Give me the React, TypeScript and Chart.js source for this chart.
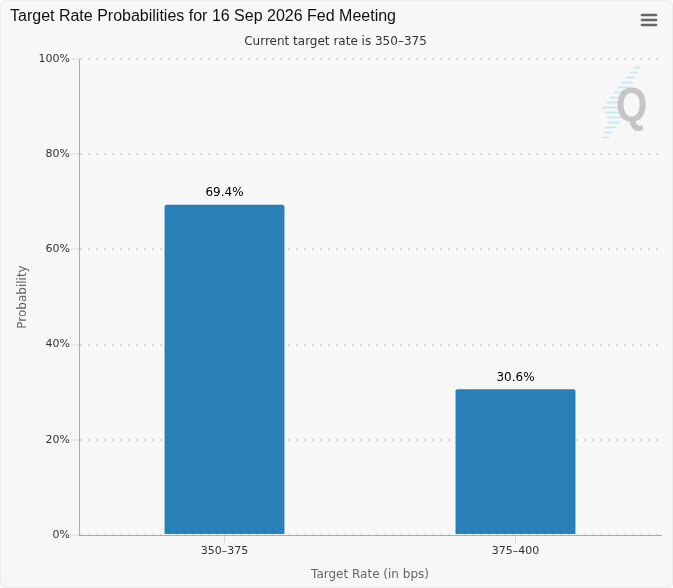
import React, { useEffect, useRef } from "react";
import { Chart, registerables } from "chart.js";

Chart.register(...registerables);

const TITLE = "Target Rate Probabilities for 16 Sep 2026 Fed Meeting";
const SUBTITLE = "Current target rate is 350–375";
const X_TITLE = "Target Rate (in bps)";
const Y_TITLE = "Probability";
const categories = ["350–375", "375–400"];
const probabilities = [69.4, 30.6];
const yTicks = [0, 20, 40, 60, 80, 100];

const W = 673;
const H = 588;
const TICK_FONT = "DejaVu Sans, Verdana, sans-serif";

const backgroundPlugin = {
  id: "bgPlugin",
  beforeDraw(chart: any) {
    const ctx = chart.ctx;
    ctx.save();
    ctx.fillStyle = "#ffffff";
    ctx.fillRect(0, 0, chart.width, chart.height);
    ctx.fillStyle = "#f7f7f7";
    ctx.strokeStyle = "#ececec";
    ctx.lineWidth = 1;
    ctx.beginPath();
    (ctx as any).roundRect(0.5, 0.5, chart.width - 1, chart.height - 1, 4);
    ctx.fill();
    ctx.stroke();
    ctx.restore();
  },
};

const decoPlugin = {
  id: "decoPlugin",
  beforeDatasetsDraw(chart: any) {
    const ctx = chart.ctx;
    ctx.save();
    // watermark stripes (decorative logo)
    ctx.strokeStyle = "rgba(160, 222, 244, 0.6)";
    ctx.lineWidth = 1.6;
    for (let y = 67; y <= 138; y += 5) {
      let left: number;
      let w: number;
      if (y <= 107) {
        left = 634 - (y - 67) * 0.8;
        w = 6 + (y - 67) * 0.3;
      } else {
        left = 603 + Math.max(0, 5 - Math.abs(y - 120) * 0.35);
        w = 18 - (y - 107) * 0.4;
      }
      ctx.beginPath();
      ctx.moveTo(left, y + 0.5);
      ctx.lineTo(left + w, y + 0.5);
      ctx.stroke();
    }
    // watermark Q
    ctx.fillStyle = "#c6c6c6";
    ctx.font = "bold 48px 'Liberation Sans', Arial, sans-serif";
    ctx.textBaseline = "alphabetic";
    ctx.textAlign = "left";
    ctx.translate(616, 121);
    ctx.scale(0.84, 1);
    ctx.fillText("Q", 0, 0);
    ctx.restore();
  },
  afterDraw(chart: any) {
    const ctx = chart.ctx;
    ctx.save();
    ctx.strokeStyle = "#666666";
    ctx.lineWidth = 2.6;
    ctx.lineCap = "round";
    [15, 20, 25].forEach((y) => {
      ctx.beginPath();
      ctx.moveTo(642, y);
      ctx.lineTo(656, y);
      ctx.stroke();
    });
    ctx.restore();
  },
};

const labelPlugin = {
  id: "labelPlugin",
  afterDatasetsDraw(chart: any) {
    const ctx = chart.ctx;
    const meta = chart.getDatasetMeta(0);
    ctx.save();
    ctx.fillStyle = "#000000";
    ctx.font = `12px ${TICK_FONT}`;
    ctx.textAlign = "center";
    ctx.textBaseline = "middle";
    meta.data.forEach((bar: any, i: number) => {
      const v = chart.data.datasets[0].data[i] as number;
      ctx.fillText(v.toFixed(1) + "%", bar.x, bar.y - 11.6);
    });
    ctx.restore();
  },
};

export default function App() {
  const ref = useRef<HTMLCanvasElement | null>(null);

  useEffect(() => {
    const canvas = ref.current;
    if (!canvas) return;
    const chart = new Chart(canvas, {
      type: "bar",
      data: {
        labels: categories,
        datasets: [
          {
            data: probabilities,
            backgroundColor: "#2980b9",
            borderRadius: 2,
            categoryPercentage: 1,
            barPercentage: 0.412,
          },
        ],
      },
      options: {
        responsive: false,
        animation: false,
        events: [],
        layout: { padding: { left: 10, right: 12, top: 0, bottom: 0 } },
        plugins: {
          legend: { display: false },
          tooltip: { enabled: false },
          title: {
            display: true,
            text: TITLE,
            align: "start",
            color: "#111111",
            font: { family: "'Liberation Sans', Arial, sans-serif", size: 16, weight: "normal", lineHeight: 1.2 },
            padding: { top: 7.4, bottom: 4 },
          },
          subtitle: {
            display: true,
            text: SUBTITLE,
            color: "#333333",
            font: { family: TICK_FONT, size: 12, weight: "normal", lineHeight: 1.2 },
            padding: { top: 3.7, bottom: 10.3 },
          },
        },
        scales: {
          x: {
            grid: {
              offset: false,
              drawOnChartArea: false,
              drawTicks: true,
              tickLength: 8,
              tickColor: "#d0d7e3",
            },
            border: { color: "#aaaaaa", width: 1 },
            ticks: {
              color: "#333333",
              font: { family: TICK_FONT, size: 11 },
              padding: 2,
              maxRotation: 0,
            },
            title: {
              display: true,
              text: X_TITLE,
              color: "#666666",
              font: { family: TICK_FONT, size: 12, lineHeight: 1.2 },
              padding: { top: 0, bottom: 6.3 },
            },
            afterFit: (s: any) => {
              s.height = 53;
            },
          },
          y: {
            min: 0,
            max: 100,
            afterBuildTicks: (s: any) => {
              s.ticks = yTicks.map((v) => ({ value: v }));
            },
            ticks: {
              color: "#333333",
              font: { family: TICK_FONT, size: 11 },
              padding: 1,
              callback: (v: any) => v + "%",
            },
            grid: {
              color: "#dadada",
              lineWidth: 2,
              tickColor: "#d0d7e3",
              tickWidth: 1,
              tickLength: 8,
              tickBorderDash: [],
            },
            border: { color: "#aaaaaa", width: 1, dash: [2, 6] },
            title: {
              display: true,
              text: Y_TITLE,
              color: "#666666",
              font: { family: TICK_FONT, size: 12, lineHeight: 1.2 },
              padding: { top: 5.3, bottom: 0 },
            },
            afterFit: (s: any) => {
              s.width = 69;
            },
          },
        },
      },
      plugins: [backgroundPlugin, decoPlugin, labelPlugin],
    } as any);
    return () => chart.destroy();
  }, []);

  return (
    <div style={{ position: "absolute", left: 0, top: 0, width: W, height: H }}>
      <canvas ref={ref} width={W} height={H} style={{ width: W, height: H, display: "block" }} />
    </div>
  );
}
